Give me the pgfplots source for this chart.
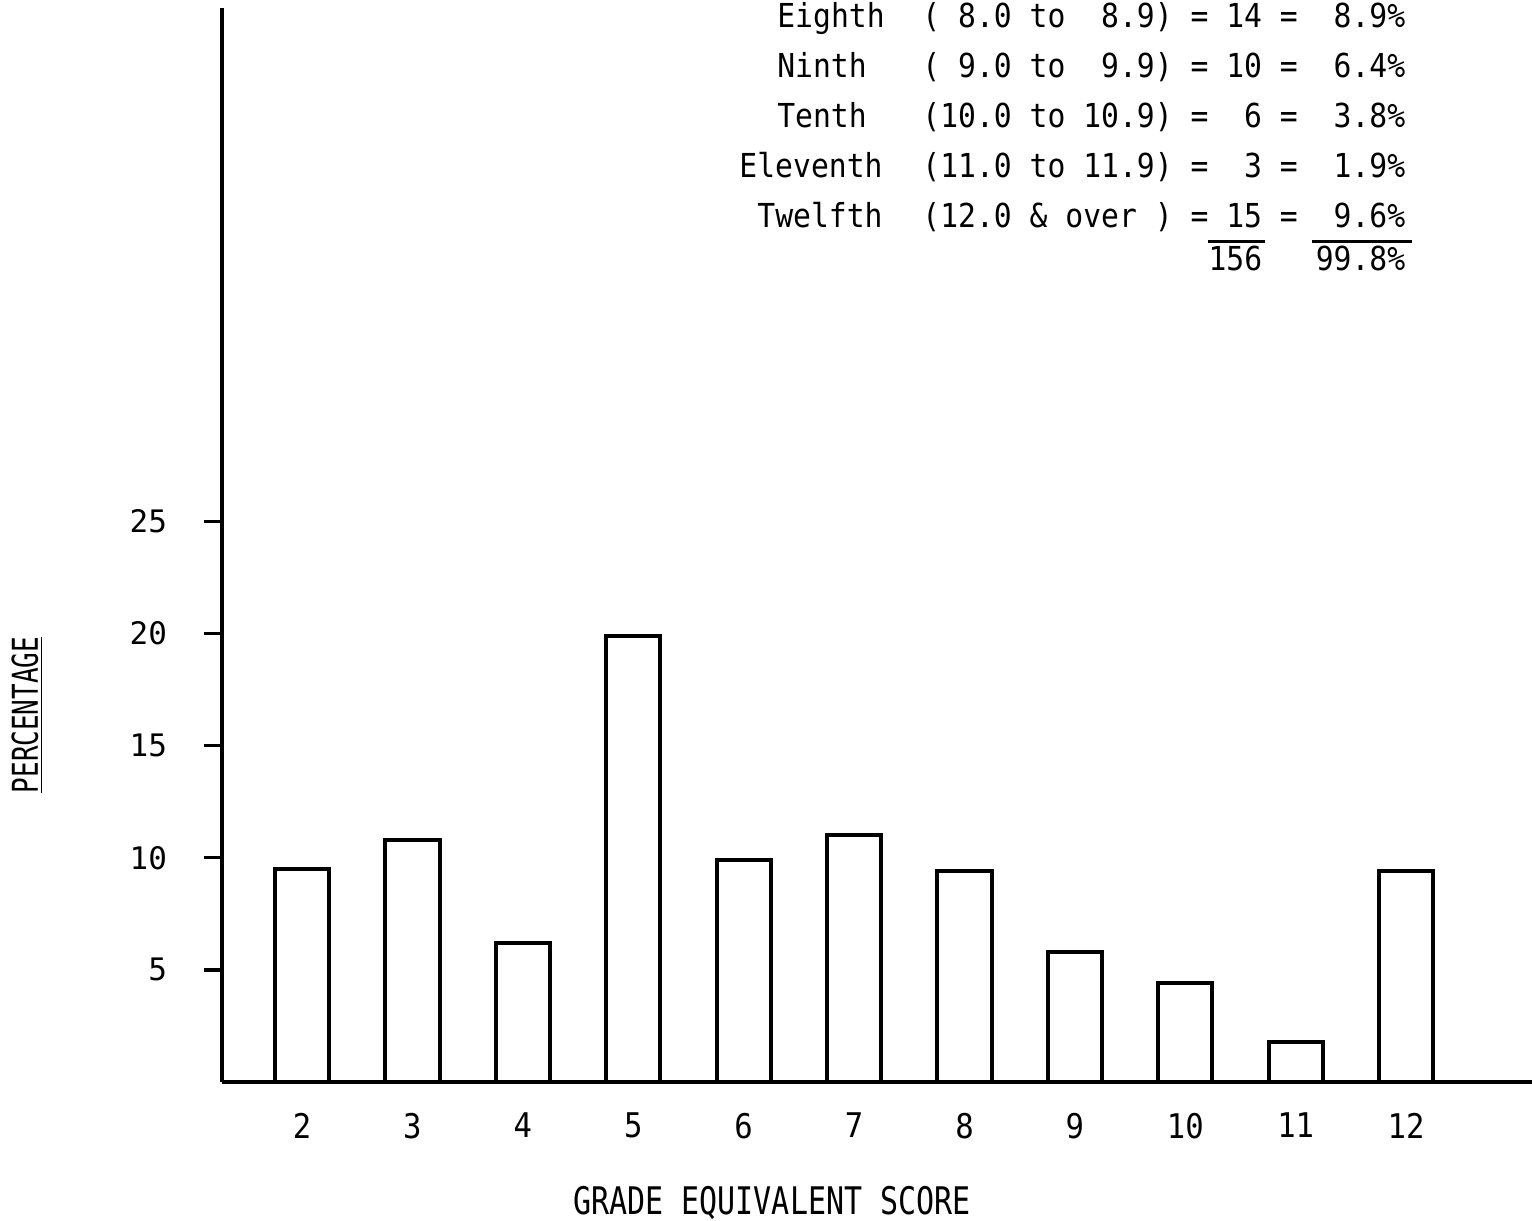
\documentclass[border=0pt]{standalone}
\usepackage{fontspec}
\usepackage{pgfplots}
\usepackage{pgfplotstable}
\pgfplotsset{compat=1.18}
\setmonofont{DejaVu Sans Mono}
\newfontfamily\rowfont[FakeStretch=0.9]{DejaVu Sans Mono}
\newfontfamily\xlabfont[FakeStretch=0.79]{DejaVu Sans Mono}
\newfontfamily\ylabfont[FakeStretch=0.73]{DejaVu Sans Mono}
\newfontfamily\tickfont{DejaVu Sans Mono}

% percentage of pupils per grade equivalent score
\pgfplotstableread{
grade pct
2  9.5
3  10.8
4  6.2
5  19.9
6  9.9
7  11.0
8  9.4
9  5.8
10 4.4
11 1.8
12 9.4
}\gradedata

\begin{document}
\begin{tikzpicture}
\useasboundingbox (0,0) rectangle (766pt,-610.5pt);
\begin{axis}[
  at={(111pt,-541pt)}, anchor=south west,
  scale only axis, width=655pt, height=537pt,
  xmin=1.275, xmax=13.14, ymin=0, ymax=47.9,
  axis lines=left,
  axis line style={-, line width=2pt},
  ybar, bar width=0.49,
  xtick={2,...,12}, ytick={5,10,15,20,25},
  tick align=outside, major tick length=9pt,
  xtick style={draw=none},
  ytick style={line width=1.6pt, black},
  /pgf/number format/assume math mode=true,
  yticklabel style={font=\tickfont\fontsize{15.5}{18}\selectfont, xshift=-15pt},
  xticklabel style={font=\rowfont\fontsize{17}{20}\selectfont, yshift=-3pt},
]
\addplot[fill=white, draw=black, line width=2pt] table[x=grade,y=pct]{\gradedata};
\end{axis}

\begin{scope}[x=0.5pt, y=-0.5pt, every node/.style={inner sep=0pt}]
  % key table at the top
  \begin{scope}[every node/.append style={font=\rowfont\fontsize{16.5}{20}\selectfont}]
    \node[anchor=base] at (831,27) {Eighth};
    \node[anchor=base west] at (922,27) {(~8.0~to~~8.9)~=~14~=~~8.9\%};
    \node[anchor=base] at (822,77) {Ninth};
    \node[anchor=base west] at (922,77) {(~9.0~to~~9.9)~=~10~=~~6.4\%};
    \node[anchor=base] at (822,127) {Tenth};
    \node[anchor=base west] at (922,127) {(10.0~to~10.9)~=~~6~=~~3.8\%};
    \node[anchor=base] at (811,177) {Eleventh};
    \node[anchor=base west] at (922,177) {(11.0~to~11.9)~=~~3~=~~1.9\%};
    \node[anchor=base] at (820,227) {Twelfth};
    \node[anchor=base west] at (922,227) {(12.0~\&~over~)~=~15~=~~9.6\%};
    \node[anchor=base west] at (922,270) {~~~~~~~~~~~~~~~~156~~~99.8\%};
  \end{scope}
  \draw[line width=1.5pt] (1208,241) -- (1265,241);
  \draw[line width=1.5pt] (1312,241) -- (1412,241);

  % axis titles
  \node[anchor=base, font=\xlabfont\fontsize{19}{22}\selectfont] at (772,1214) {GRADE EQUIVALENT SCORE};
  \node[anchor=base, rotate=90, font=\ylabfont\fontsize{17.8}{20}\selectfont] at (38,715) {\underline{PERCENTAGE}};
\end{scope}
\end{tikzpicture}
\end{document}
